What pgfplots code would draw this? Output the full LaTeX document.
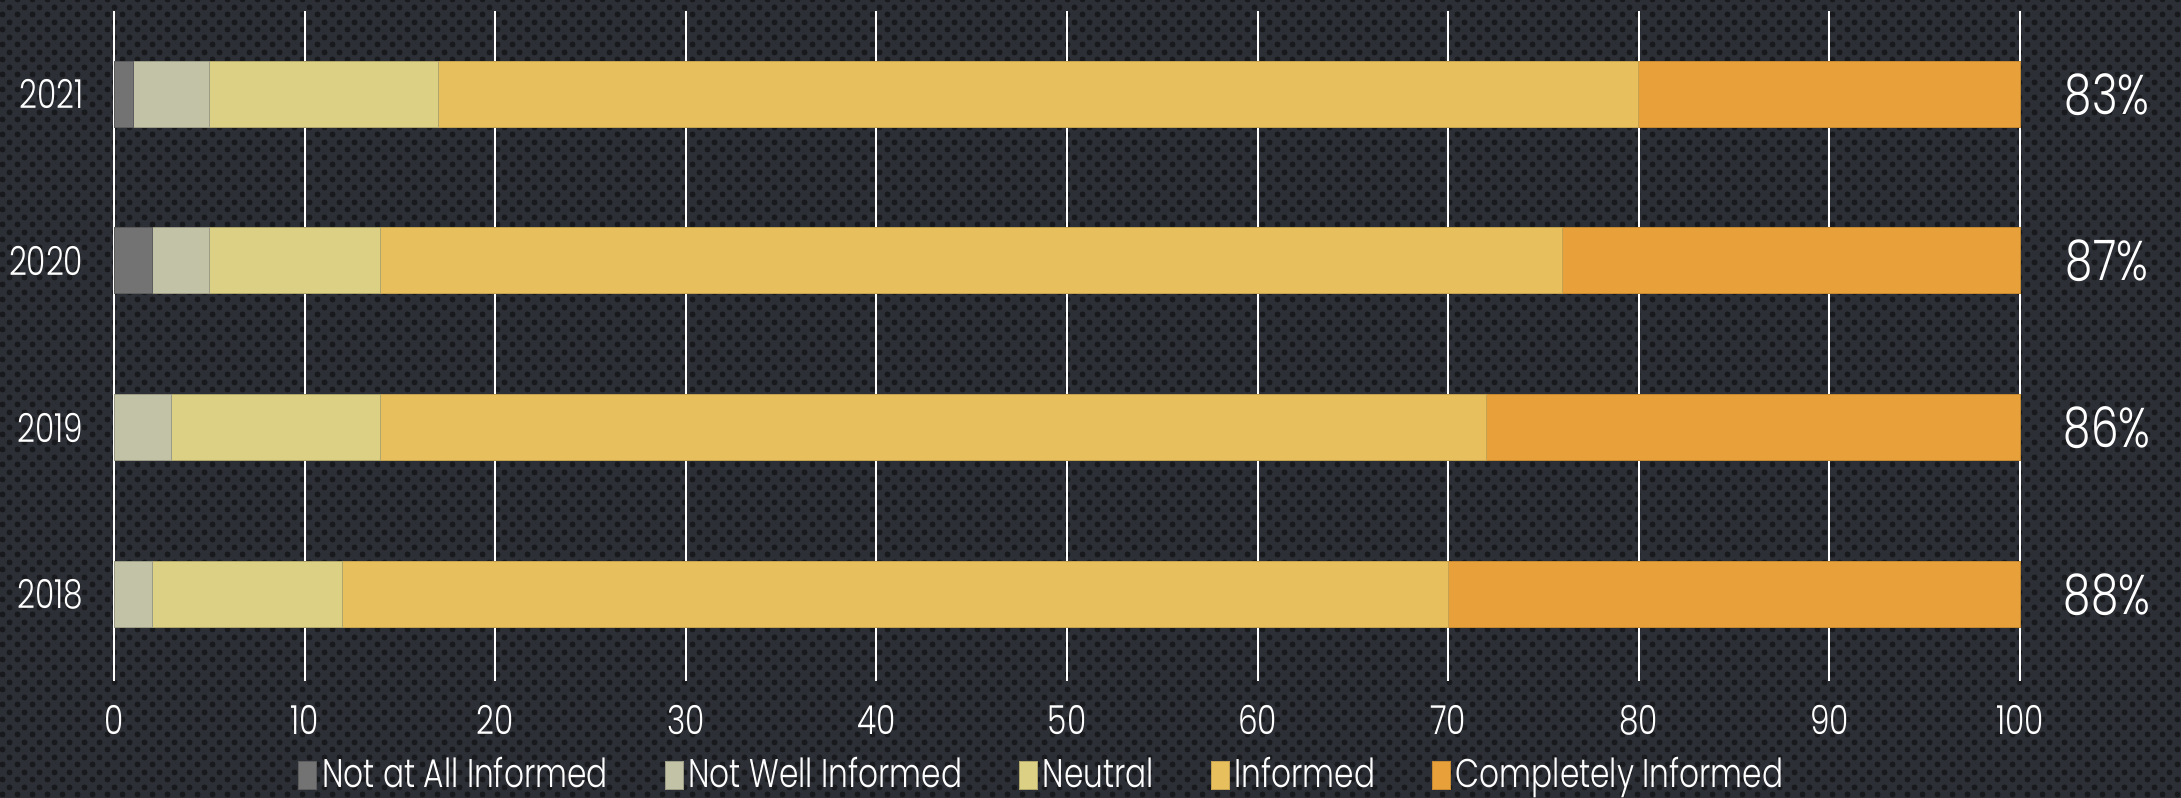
\documentclass[border=0pt]{standalone}
\usepackage{pgfplots}
\pgfplotsset{compat=1.18}
\usepackage{pgfplotstable}
\usetikzlibrary{patterns.meta}
\usepackage{fontspec}
\setmainfont{Poppins}[UprightFont={* Light}, FakeStretch=0.78]
\definecolor{bg}{HTML}{2C2F35}
\definecolor{dots}{HTML}{17191C}
\definecolor{c1}{HTML}{737373}
\definecolor{c2}{HTML}{C2C2A7}
\definecolor{c3}{HTML}{DCD085}
\definecolor{c4}{HTML}{E7BF5D}
\definecolor{c5}{HTML}{E8A13A}
\pgfdeclarepattern{
  name=carbon, type=uncolored,
  bottom left={\pgfpoint{0pt}{0pt}}, top right={\pgfpoint{3.75pt}{3.75pt}},
  tile size={\pgfpoint{3.75pt}{3.75pt}},
  code={
    \pgfpathcircle{\pgfpoint{0.94pt}{0.94pt}}{0.8pt}
    \pgfpathcircle{\pgfpoint{2.81pt}{2.81pt}}{0.8pt}
    \pgfusepath{fill}
  }
}
\pgfplotstableread{
y a b c d e
0 0 2 10 58 30
1 0 3 11 58 28
2 2 3 9 62 24
3 1 4 12 63 20
}\data
\begin{document}
\begin{tikzpicture}
\fill[bg] (0,0) rectangle (545.25pt,199.5pt);
\fill[pattern={carbon}, pattern color=dots] (0,0) rectangle (545.25pt,199.5pt);
\begin{axis}[
  at={(28.5pt,29.25pt)}, anchor=south west,
  scale only axis, width=476.5pt, height=167.5pt, clip=false,
  xbar stacked, bar width=16.5pt,
  xmin=0, xmax=100, ymin=-0.52, ymax=3.5,
  xtick={0,10,...,100}, ytick={0,1,2,3}, yticklabels={2018,2019,2020,2021},
  xmajorgrids, major grid style={white, line width=0.5pt},
  axis line style={draw=none}, major tick length=0pt,
  tick label style={white, font=\fontsize{10}{12}\selectfont},
  /pgf/number format/assume math mode=true,
  xticklabel style={inner sep=0pt, yshift=-5.9pt},
  yticklabel style={inner sep=0pt, xshift=-7.5pt},
  legend style={at={(0.4875,0)}, anchor=center, yshift=-23.7pt, draw=none, fill=none,
    text=white, font=\fontsize{10}{12}\selectfont, legend columns=5,
    nodes={inner sep=1.2pt},
    /tikz/every even column/.append style={column sep=13pt}},
  legend image code/.code={\fill[#1] (0pt,-3.5pt) rectangle (4.5pt,3.5pt);},
]
\addplot[fill=c1, draw=c1!80!black, line width=0.25pt] table[x=a, y=y] {\data};
\addplot[fill=c2, draw=c2!80!black, line width=0.25pt] table[x=b, y=y] {\data};
\addplot[fill=c3, draw=c3!80!black, line width=0.25pt] table[x=c, y=y] {\data};
\addplot[fill=c4, draw=c4!85!black, line width=0.25pt] table[x=d, y=y] {\data};
\addplot[fill=c5, draw=c5!85!black, line width=0.25pt] table[x=e, y=y] {\data};
\legend{Not at All Informed, Not Well Informed, Neutral, Informed, Completely Informed}
\node[white, font=\fontsize{14}{16}\selectfont, xshift=21.75pt] at (axis cs:100,3) {83\%};
\node[white, font=\fontsize{14}{16}\selectfont, xshift=21.75pt] at (axis cs:100,2) {87\%};
\node[white, font=\fontsize{14}{16}\selectfont, xshift=21.75pt] at (axis cs:100,1) {86\%};
\node[white, font=\fontsize{14}{16}\selectfont, xshift=21.75pt] at (axis cs:100,0) {88\%};
\end{axis}
\pgfresetboundingbox
\path[use as bounding box] (0,0) rectangle (545.25pt,199.5pt);
\end{tikzpicture}
\end{document}
